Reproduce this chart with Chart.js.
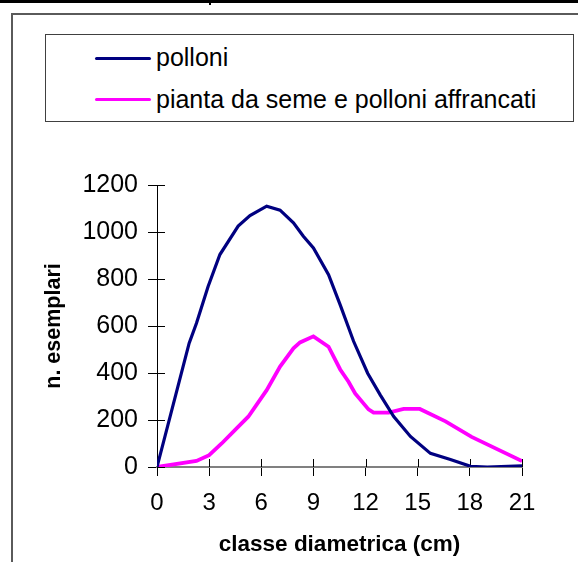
<!DOCTYPE html>
<html lang="it">
<head>
<meta charset="utf-8">
<title>polloni / pianta da seme</title>
<script src="https://cdn.jsdelivr.net/npm/chart.js@4/dist/chart.umd.min.js"></script>
<style>
  html, body { margin: 0; padding: 0; background: #fff; }
  body { width: 578px; height: 562px; position: relative; overflow: hidden;
         font-family: "Liberation Sans", Arial, sans-serif; }
  .sheet-top { position: absolute; left: 0; top: 0; width: 578px; height: 3px; background: #000; }
  .sheet-mark { position: absolute; left: 209px; top: 0; width: 2px; height: 5px; background: #000; }
  .frame { position: absolute; left: 11px; top: 13px; width: 600px; height: 600px;
           border-left: 2px solid #5a5a5a; border-top: 2px solid #5a5a5a; }
  .chart-wrap { position: absolute; left: 0; top: 0; width: 578px; height: 562px; }
  .legend { position: absolute; left: 45px; top: 34px; width: 527px; height: 86px;
            border: 1px solid #404040; background: #fff; z-index: 2; }
  .legend .swatch { position: absolute; left: 49px; width: 56px; height: 3px; border-radius: 2px; }
  .legend .label { position: absolute; left: 110px; font-size: 25px; color: #000; white-space: nowrap; }
</style>
</head>
<body>
<div class="sheet-top"></div>
<div class="sheet-mark"></div>
<div class="frame"></div>
<div class="chart-wrap"><canvas id="diamChart"></canvas></div>
<div class="legend" id="legend"></div>

<script>
// ---- data ----
const seriesNames = ["polloni", "pianta da seme e polloni affrancati"];
const seriesColors = ["#000080", "#ff00ff"];

const polloniX = [0, 1.85, 2.27, 2.94, 3.62, 4.67, 5.35, 6.31, 7.08, 7.85, 8.42, 9.0,
                  9.87, 10.54, 11.31, 12.12, 12.85, 13.62, 14.58, 15.73, 16.88, 18.04, 19.0, 21.0];
const polloniY = [0, 527, 612, 768, 904, 1025, 1070, 1110, 1093, 1039, 982, 932,
                  818, 690, 535, 399, 306, 215, 130, 58, 32, 3, 0, 5];

const semeX = [0, 2.27, 3.0, 3.72, 4.48, 5.25, 6.31, 7.08, 7.85, 8.23, 9.0, 9.87,
               10.54, 11.02, 11.4, 12.17, 12.46, 13.33, 14.19, 15.12, 16.6, 18.1, 21.0];
const semeY = [0, 26, 50, 100, 157, 214, 327, 427, 505, 530, 556, 512,
               415, 363, 313, 245, 231, 231, 247, 247, 194, 128, 25];

const xTicks = [0, 3, 6, 9, 12, 15, 18, 21];
const yTicks = [0, 200, 400, 600, 800, 1000, 1200];

(function () {
  "use strict";

  const FONT = "'Liberation Sans', Arial, sans-serif";
  const toPoints = (xs, ys) => xs.map((x, i) => ({ x: x, y: ys[i] }));

  // legend box (html, drawn over the chart like the original)
  const legend = document.getElementById("legend");
  const lineTops = [22, 63];      // swatch y inside the box
  const textTops = [8, 50];
  seriesNames.forEach((name, i) => {
    const sw = document.createElement("div");
    sw.className = "swatch";
    sw.style.top = lineTops[i] + "px";
    sw.style.background = seriesColors[i];
    legend.appendChild(sw);
    const lb = document.createElement("div");
    lb.className = "label";
    lb.style.top = textTops[i] + "px";
    lb.textContent = name;
    legend.appendChild(lb);
  });

  // tick marks cross the axis: draw the inner half ourselves
  const crossTicks = {
    id: "crossTicks",
    beforeDatasetsDraw(chart) {
      const { ctx, chartArea, scales } = chart;
      ctx.save();
      ctx.strokeStyle = "#000";
      ctx.lineWidth = 1;
      ctx.beginPath();
      xTicks.forEach((v) => {
        const px = Math.round(scales.x.getPixelForValue(v)) + 0.5;
        ctx.moveTo(px, chartArea.bottom);
        ctx.lineTo(px, chartArea.bottom - 8);
      });
      yTicks.forEach((v) => {
        const py = Math.round(scales.y.getPixelForValue(v)) + 0.5;
        ctx.moveTo(chartArea.left, py);
        ctx.lineTo(chartArea.left + 8, py);
      });
      ctx.stroke();
      ctx.restore();
    },
  };

  Chart.defaults.font.family = FONT;
  Chart.defaults.color = "#000";

  new Chart(document.getElementById("diamChart"), {
    type: "line",
    data: {
      datasets: [
        {
          label: seriesNames[0],
          data: toPoints(polloniX, polloniY),
          borderColor: seriesColors[0],
          borderWidth: 3.2,
          pointRadius: 0,
          tension: 0,
        },
        {
          label: seriesNames[1],
          data: toPoints(semeX, semeY),
          borderColor: seriesColors[1],
          borderWidth: 3.8,
          pointRadius: 0,
          tension: 0,
        },
      ],
    },
    options: {
      responsive: true,
      maintainAspectRatio: false,
      animation: false,
      layout: { padding: { left: 41, right: 56, top: 185, bottom: 4 } },
      plugins: {
        legend: { display: false },
        tooltip: { enabled: false },
      },
      scales: {
        x: {
          type: "linear",
          min: 0,
          max: 21,
          afterBuildTicks: (s) => { s.ticks = xTicks.map((v) => ({ value: v })); },
          ticks: { font: { size: 24 }, color: "#000", padding: 13, maxRotation: 0, autoSkip: false,
                   callback: (v) => String(v) },
          grid: { drawOnChartArea: false, tickLength: 9, tickColor: "#000", tickWidth: 1 },
          border: { color: "#808080", width: 2 },
          title: {
            display: true,
            text: "classe diametrica (cm)",
            font: { size: 22.5, weight: "bold" },
            color: "#000",
            padding: 0,
          },
          afterFit: (s) => { s.height = 91; },
        },
        y: {
          min: 0,
          max: 1200,
          afterBuildTicks: (s) => { s.ticks = yTicks.map((v) => ({ value: v })); },
          ticks: { font: { size: 25 }, color: "#000", padding: 10, callback: (v) => String(v) },
          grid: { drawOnChartArea: false, tickLength: 9, tickColor: "#000", tickWidth: 1 },
          border: { color: "#000", width: 1 },
          title: {
            display: true,
            text: "n. esemplari",
            font: { size: 21.5, weight: "bold" },
            color: "#000",
            padding: 0,
          },
          afterFit: (s) => { s.width = 116; },
        },
      },
    },
    plugins: [crossTicks],
  });
})();
</script>
</body>
</html>
